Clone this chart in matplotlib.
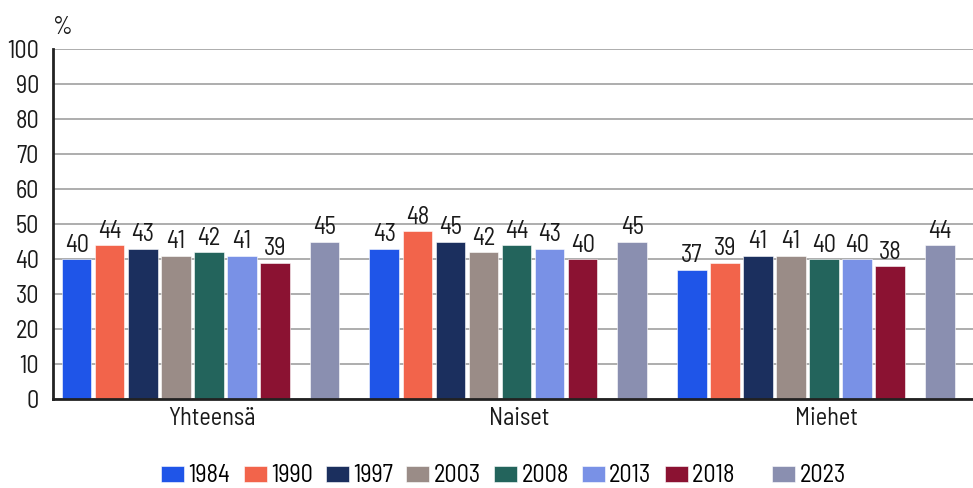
import numpy as np
import matplotlib
matplotlib.use("Agg")
import matplotlib.pyplot as plt

plt.rcParams["font.family"] = ["Barlow Semi Condensed", "DejaVu Sans"]

ryhmat = ["Yhteensä", "Naiset", "Miehet"]
vuodet = ["1984", "1990", "1997", "2003", "2008", "2013", "2018", "2023"]
arvot = {
    "1984": [40, 43, 37],
    "1990": [44, 48, 39],
    "1997": [43, 45, 41],
    "2003": [41, 42, 41],
    "2008": [42, 44, 40],
    "2013": [41, 43, 40],
    "2018": [39, 40, 38],
    "2023": [45, 45, 44],
}
varit = ["#1f55e8", "#f2644b", "#1b2f5e", "#9a8c87",
         "#23645c", "#7991e6", "#8b1232", "#8a8fb0"]

# paikat ryhmän sisällä (2018 ja 2023 välissä väli)
paikat = [0, 1, 2, 3, 4, 5, 6, 7.5]
askel = 0.1075
leveys = 0.096
siirto = -0.035

fs = 17.5
teksti = "#1a1a1a"
fig = plt.figure(figsize=(9.73, 4.88), dpi=100)
ax = fig.add_axes([53 / 973, 89 / 488, 1 - 53 / 973, 350 / 488])

x = np.arange(len(ryhmat))
for i, v in enumerate(vuodet):
    pos = x + siirto + (paikat[i] - 3.75) * askel
    ax.bar(pos, arvot[v], width=leveys, color=varit[i],
           edgecolor="white", linewidth=0.4, zorder=3, label=v)
    for p, a in zip(pos, arvot[v]):
        ax.annotate(str(a), (p, a), xytext=(0, 1.5), textcoords="offset points",
                    ha="center", va="bottom", fontsize=fs, color=teksti)

ax.set_ylim(0, 100)
ax.set_xlim(-0.515, 2.476)
ax.set_yticks(range(0, 101, 10))
ax.set_xticks(x)
ax.set_xticklabels(ryhmat)
ax.tick_params(axis="both", length=0, labelsize=fs, colors=teksti)
ax.tick_params(axis="x", pad=6)
ax.tick_params(axis="y", pad=10)
ax.yaxis.grid(True, color="#a0a0a0", linewidth=1.2, zorder=0)
ax.set_axisbelow(True)
for s in ["top", "right"]:
    ax.spines[s].set_visible(False)
for s in ["left", "bottom"]:
    ax.spines[s].set_linewidth(2)
    ax.spines[s].set_color("#222222")
    ax.spines[s].set_zorder(4)

ax.text(0, 1.03, "%", transform=ax.transAxes, fontsize=fs, color=teksti,
        ha="left", va="bottom")

kahvat, tekstit = ax.get_legend_handles_labels()
tekstit[6] = "2018     "
fig.legend(kahvat, tekstit, loc="center", bbox_to_anchor=(503.5 / 973, 12 / 488),
           ncol=8, frameon=False, fontsize=fs, handlelength=0.95, handleheight=0.6,
           handletextpad=0.17, columnspacing=0.55, borderaxespad=0, borderpad=0)

fig.savefig("out.png", dpi=100)
